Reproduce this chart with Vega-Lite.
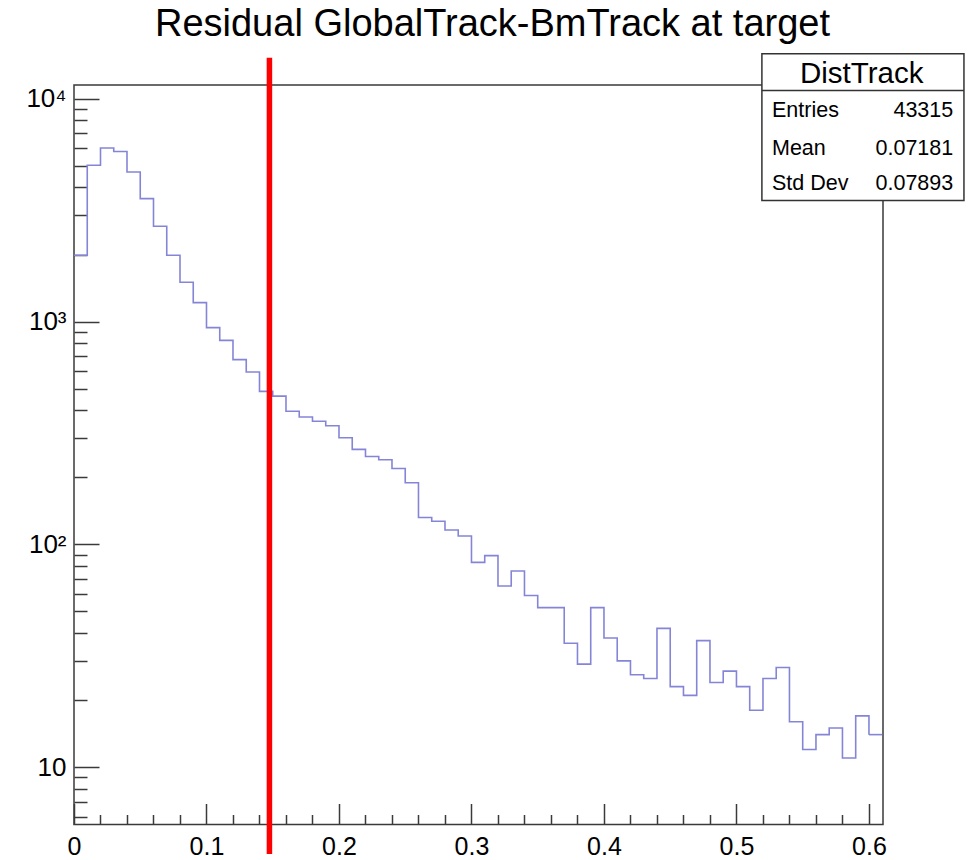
{
  "$schema": "https://vega.github.io/schema/vega-lite/v6.json",
  "width": 809,
  "height": 739.5,
  "autosize": "none",
  "padding": {"left": 74, "top": 85, "right": 93, "bottom": 35.5},
  "background": "white",
  "title": {
    "text": "Residual GlobalTrack-BmTrack at target",
    "font": "Liberation Sans",
    "fontSize": 38,
    "fontWeight": "normal",
    "color": "black",
    "anchor": "middle",
    "frame": "group",
    "baseline": "alphabetic",
    "offset": -21,
    "dx": 14
  },
  "config": {
    "font": "Liberation Sans",
    "view": {"stroke": "#3a3a3a", "strokeWidth": 1.5}
  },
  "data": {
    "values": [
      {"lo": 0.00, "hi": 0.01, "count": 1985},
      {"lo": 0.01, "hi": 0.02, "count": 5035},
      {"lo": 0.02, "hi": 0.03, "count": 6017},
      {"lo": 0.03, "hi": 0.04, "count": 5798},
      {"lo": 0.04, "hi": 0.05, "count": 4697},
      {"lo": 0.05, "hi": 0.06, "count": 3566},
      {"lo": 0.06, "hi": 0.07, "count": 2679},
      {"lo": 0.07, "hi": 0.08, "count": 1985},
      {"lo": 0.08, "hi": 0.09, "count": 1501},
      {"lo": 0.09, "hi": 0.10, "count": 1217},
      {"lo": 0.10, "hi": 0.11, "count": 940},
      {"lo": 0.11, "hi": 0.12, "count": 824},
      {"lo": 0.12, "hi": 0.13, "count": 675},
      {"lo": 0.13, "hi": 0.14, "count": 594},
      {"lo": 0.14, "hi": 0.15, "count": 486},
      {"lo": 0.15, "hi": 0.16, "count": 463},
      {"lo": 0.16, "hi": 0.17, "count": 396},
      {"lo": 0.17, "hi": 0.18, "count": 373},
      {"lo": 0.18, "hi": 0.19, "count": 357},
      {"lo": 0.19, "hi": 0.20, "count": 341},
      {"lo": 0.20, "hi": 0.21, "count": 301},
      {"lo": 0.21, "hi": 0.22, "count": 267},
      {"lo": 0.22, "hi": 0.23, "count": 248},
      {"lo": 0.23, "hi": 0.24, "count": 240},
      {"lo": 0.24, "hi": 0.25, "count": 219},
      {"lo": 0.25, "hi": 0.26, "count": 189},
      {"lo": 0.26, "hi": 0.27, "count": 132},
      {"lo": 0.27, "hi": 0.28, "count": 127},
      {"lo": 0.28, "hi": 0.29, "count": 116},
      {"lo": 0.29, "hi": 0.30, "count": 109},
      {"lo": 0.30, "hi": 0.31, "count": 83},
      {"lo": 0.31, "hi": 0.32, "count": 89},
      {"lo": 0.32, "hi": 0.33, "count": 65},
      {"lo": 0.33, "hi": 0.34, "count": 76},
      {"lo": 0.34, "hi": 0.35, "count": 59},
      {"lo": 0.35, "hi": 0.36, "count": 52},
      {"lo": 0.36, "hi": 0.37, "count": 52},
      {"lo": 0.37, "hi": 0.38, "count": 36},
      {"lo": 0.38, "hi": 0.39, "count": 29},
      {"lo": 0.39, "hi": 0.40, "count": 52},
      {"lo": 0.40, "hi": 0.41, "count": 38},
      {"lo": 0.41, "hi": 0.42, "count": 30},
      {"lo": 0.42, "hi": 0.43, "count": 26},
      {"lo": 0.43, "hi": 0.44, "count": 25},
      {"lo": 0.44, "hi": 0.45, "count": 42},
      {"lo": 0.45, "hi": 0.46, "count": 23},
      {"lo": 0.46, "hi": 0.47, "count": 21},
      {"lo": 0.47, "hi": 0.48, "count": 37},
      {"lo": 0.48, "hi": 0.49, "count": 24},
      {"lo": 0.49, "hi": 0.50, "count": 27},
      {"lo": 0.50, "hi": 0.51, "count": 23},
      {"lo": 0.51, "hi": 0.52, "count": 18},
      {"lo": 0.52, "hi": 0.53, "count": 25},
      {"lo": 0.53, "hi": 0.54, "count": 28},
      {"lo": 0.54, "hi": 0.55, "count": 16},
      {"lo": 0.55, "hi": 0.56, "count": 12},
      {"lo": 0.56, "hi": 0.57, "count": 14},
      {"lo": 0.57, "hi": 0.58, "count": 15},
      {"lo": 0.58, "hi": 0.59, "count": 11},
      {"lo": 0.59, "hi": 0.60, "count": 17},
      {"lo": 0.60, "hi": 0.61, "count": 14}
    ]
  },
  "layer": [
    {
      "mark": {"type": "line", "interpolate": "step-after", "color": "#8585d8", "strokeWidth": 1.6},
      "encoding": {
        "x": {
          "field": "lo",
          "type": "quantitative",
          "scale": {"domain": [0, 0.6106], "nice": false, "zero": false},
          "axis": {
            "title": null,
            "grid": false,
            "domain": false,
            "tickCount": 200,
            "values": [0, 0.02, 0.04, 0.06, 0.08, 0.1, 0.12, 0.14, 0.16, 0.18, 0.2, 0.22, 0.24, 0.26, 0.28, 0.3, 0.32, 0.34, 0.36, 0.38, 0.4, 0.42, 0.44, 0.46, 0.48, 0.5, 0.52, 0.54, 0.56, 0.58, 0.6],
            "labelExpr": "abs(datum.value * 10 - round(datum.value * 10)) < 1e-6 ? format(datum.value, '.1~f') : ''",
            "labelFont": "Liberation Sans",
            "labelFontSize": 25,
            "labelColor": "black",
            "labelPadding": 31,
            "labelFlush": false,
            "labelOverlap": false,
            "tickColor": "#3a3a3a",
            "tickWidth": 1.5,
            "tickSize": {"condition": {"test": "abs(datum.value * 10 - round(datum.value * 10)) < 1e-6", "value": -21}, "value": -10}
          }
        },
        "y": {
          "field": "count",
          "type": "quantitative",
          "scale": {"type": "log", "domain": [5.53, 11535], "nice": false},
          "axis": {
            "title": null,
            "grid": false,
            "domain": false,
            "tickCount": 200,
            "values": [6, 7, 8, 9, 10, 20, 30, 40, 50, 60, 70, 80, 90, 100, 200, 300, 400, 500, 600, 700, 800, 900, 1000, 2000, 3000, 4000, 5000, 6000, 7000, 8000, 9000, 10000],
            "labelExpr": "datum.value == 10 ? '10' : datum.value == 100 ? '10²' : datum.value == 1000 ? '10³' : datum.value == 10000 ? '10⁴' : ''",
            "labelFont": "Liberation Sans",
            "labelFontSize": 26,
            "labelColor": "black",
            "labelPadding": 33,
            "labelFlush": false,
            "labelOverlap": false,
            "tickColor": "#3a3a3a",
            "tickWidth": 1.5,
            "tickSize": {"condition": {"test": "indexof([10, 100, 1000, 10000], datum.value) >= 0", "value": -25}, "value": -13}
          }
        }
      }
    },
    {
      "transform": [{"filter": "datum.lo >= 0.595"}],
      "mark": {"type": "rule", "color": "#8585d8", "strokeWidth": 1.6},
      "encoding": {
        "x": {"field": "lo", "type": "quantitative"},
        "x2": {"field": "hi"},
        "y": {"field": "count", "type": "quantitative"}
      }
    },
    {
      "data": {"values": [{}]},
      "mark": {"type": "rule", "color": "#ff0000", "strokeWidth": 5.5, "clip": false},
      "encoding": {
        "x": {"datum": 0.1475},
        "y": {"datum": 4.08},
        "y2": {"datum": 15300}
      }
    },
    {
      "data": {"values": [{}]},
      "mark": {"type": "rect", "fill": "white", "stroke": "#333333", "strokeWidth": 1.5, "clip": false},
      "encoding": {
        "x": {"datum": 0.5192},
        "x2": {"datum": 0.6717},
        "y": {"datum": 3494},
        "y2": {"datum": 15920}
      }
    },
    {
      "data": {"values": [{}]},
      "mark": {"type": "rule", "color": "#333333", "strokeWidth": 1.5, "clip": false},
      "encoding": {
        "x": {"datum": 0.5192},
        "x2": {"datum": 0.6717},
        "y": {"datum": 10897}
      }
    },
    {
      "data": {"values": [{}]},
      "mark": {"type": "text", "text": "DistTrack", "font": "Liberation Sans", "fontSize": 29.5, "align": "center", "baseline": "alphabetic", "color": "black", "clip": false},
      "encoding": {"x": {"datum": 0.5945}, "y": {"datum": 11750}}
    },
    {
      "data": {"values": [{}]},
      "mark": {"type": "text", "text": "Entries", "font": "Liberation Sans", "fontSize": 21.5, "align": "left", "baseline": "alphabetic", "color": "black", "clip": false},
      "encoding": {"x": {"datum": 0.5268}, "y": {"datum": 8329}}
    },
    {
      "data": {"values": [{}]},
      "mark": {"type": "text", "text": "43315", "font": "Liberation Sans", "fontSize": 21.5, "align": "right", "baseline": "alphabetic", "color": "black", "clip": false},
      "encoding": {"x": {"datum": 0.6636}, "y": {"datum": 8329}}
    },
    {
      "data": {"values": [{}]},
      "mark": {"type": "text", "text": "Mean", "font": "Liberation Sans", "fontSize": 21.5, "align": "left", "baseline": "alphabetic", "color": "black", "clip": false},
      "encoding": {"x": {"datum": 0.5268}, "y": {"datum": 5623}}
    },
    {
      "data": {"values": [{}]},
      "mark": {"type": "text", "text": "0.07181", "font": "Liberation Sans", "fontSize": 21.5, "align": "right", "baseline": "alphabetic", "color": "black", "clip": false},
      "encoding": {"x": {"datum": 0.6636}, "y": {"datum": 5623}}
    },
    {
      "data": {"values": [{}]},
      "mark": {"type": "text", "text": "Std Dev", "font": "Liberation Sans", "fontSize": 21.5, "align": "left", "baseline": "alphabetic", "color": "black", "clip": false},
      "encoding": {"x": {"datum": 0.5268}, "y": {"datum": 3914}}
    },
    {
      "data": {"values": [{}]},
      "mark": {"type": "text", "text": "0.07893", "font": "Liberation Sans", "fontSize": 21.5, "align": "right", "baseline": "alphabetic", "color": "black", "clip": false},
      "encoding": {"x": {"datum": 0.6636}, "y": {"datum": 3914}}
    }
  ]
}
